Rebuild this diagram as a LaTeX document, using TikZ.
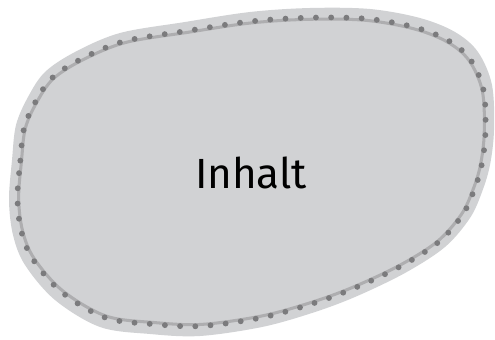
\documentclass[tikz,border=0pt]{standalone}
\usepackage{fontspec}
\setsansfont{Fira Sans}
\definecolor{blobgray}{HTML}{D1D2D4}
\definecolor{rimgray}{HTML}{AEAEB0}
\definecolor{dotgray}{HTML}{7B7B7D}
\tikzset{
  blob/.style={fill=blobgray,draw=none},
  rimline/.style={draw=rimgray,line width=2.6pt},
  rimdots/.style={draw=dotgray,line width=5pt,line cap=round,dash pattern=on 0pt off 13pt},
  lbl/.style={font=\sffamily\fontsize{36}{40}\selectfont,text=black}
}
\newcommand{\blobpath}{plot[smooth cycle,tension=0.55] coordinates{
  (9,200) (12,160) (16,125) (28,97) (45,72) (75,52) (120,33) (185,22) (250,12)
  (310,8) (370,9) (420,18) (455,32) (478,52) (492,85) (494,130) (490,165)
  (482,192) (470,218) (445,247) (405,273) (355,297) (312,313) (262,327)
  (200,336) (150,334) (100,327) (55,300) (25,265) (13,235)}}
\begin{document}
\begin{tikzpicture}[x=0.03cm,y=-0.03cm]
  \useasboundingbox (0,0) rectangle (495,340);
  % outer blob
  \fill[blob] \blobpath;
  % inner rim and dots
  \begin{scope}[shift={(250,170)},xscale=0.96,yscale=0.93,shift={(-250,-170)}]
    \draw[rimline] \blobpath;
  \end{scope}
  \begin{scope}[shift={(250,170)},xscale=0.965,yscale=0.94,shift={(-250,-170)}]
    \draw[rimdots] \blobpath;
  \end{scope}
  \node[lbl] (inhalt) at (251,173) {Inhalt};
\end{tikzpicture}
\end{document}
